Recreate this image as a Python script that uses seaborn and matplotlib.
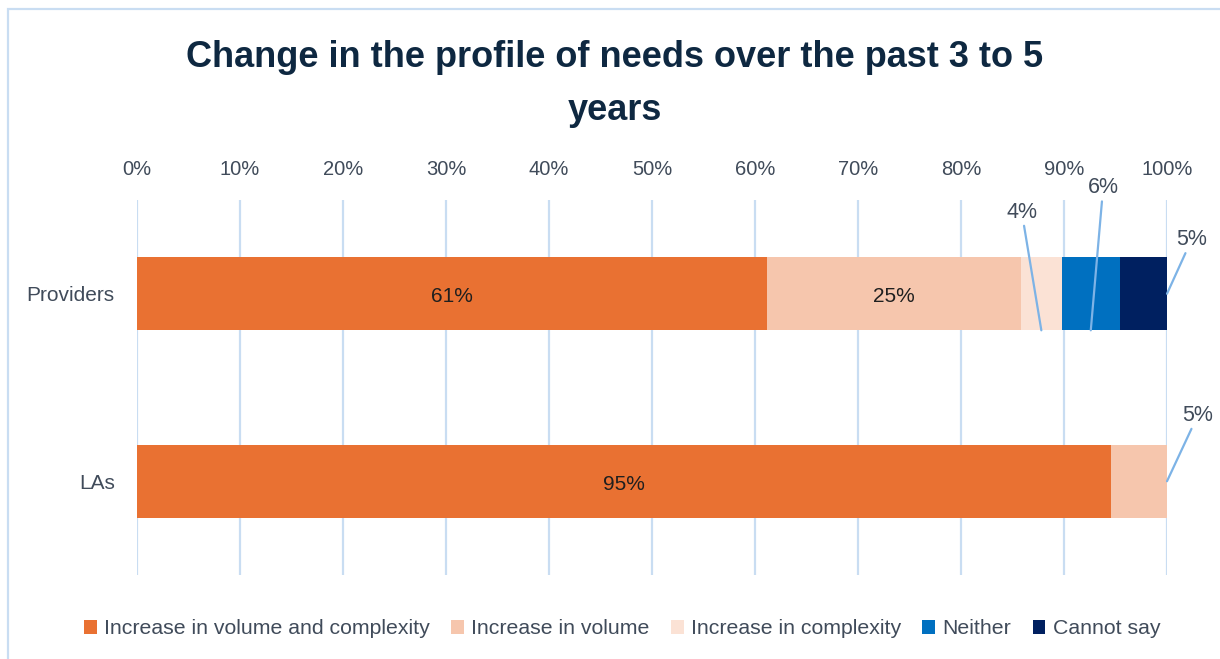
import matplotlib
matplotlib.use("Agg")
import matplotlib.pyplot as plt
from matplotlib.patches import Patch, Rectangle
import numpy as np
import pandas as pd
import seaborn as sns

# Survey results: share of respondents by response category
groups = ["Providers", "LAs"]
categories = ["Increase in volume and complexity", "Increase in volume",
              "Increase in complexity", "Neither", "Cannot say"]
providers = [61.2, 24.6, 4.0, 5.6, 4.6]
las = [94.6, 5.4, 0.0, 0.0, 0.0]
x_ticks = [0, 10, 20, 30, 40, 50, 60, 70, 80, 90, 100]

colors = ["#E97132", "#F6C6AD", "#FBE2D5", "#0070C0", "#002060"]
text_dark = "#404B5A"
grid_col = "#C9DDF2"
leader_col = "#7DB3E6"

sns.set_theme(style="white")
plt.rcParams["font.family"] = ["Liberation Sans", "DejaVu Sans"]

fig = plt.figure(figsize=(12.2, 6.59), dpi=100)
W, H = 1220, 659
ax = fig.add_axes([137 / W, 1 - 575 / H, (1167 - 137) / W, (575 - 200) / H])

df = pd.DataFrame({"group": np.repeat(groups, len(categories)),
                   "category": categories * len(groups),
                   "value": providers + las})
df["cum"] = df.groupby("group")["value"].cumsum()

# Stacked bars: draw cumulative totals from the last segment back to the first
for i in range(len(categories) - 1, -1, -1):
    sub = df[df["category"] == categories[i]]
    sns.barplot(data=sub, x="cum", y="group", order=groups, orient="h",
                color=colors[i], width=0.39, saturation=1, ax=ax,
                linewidth=0, zorder=3)

ax.set_xlim(0, 100)
ax.set_ylim(1.5, -0.5)
ax.set_xticks(x_ticks)
ax.set_xticklabels([f"{t}%" for t in x_ticks])
ax.xaxis.tick_top()
ax.tick_params(axis="x", length=0, pad=15, labelsize=14.5, labelcolor=text_dark)
ax.tick_params(axis="y", length=0, pad=16, labelsize=15, labelcolor=text_dark)
ax.set_xlabel("")
ax.set_ylabel("")
ax.grid(axis="x", color=grid_col, linewidth=1.6, zorder=0)
ax.grid(axis="y", visible=False)
for s in ax.spines.values():
    s.set_visible(False)

# Value labels inside the large segments
bh = 0.39 / 2
for gi, vals in enumerate([providers, las]):
    start = 0.0
    for ci, v in enumerate(vals):
        if v >= 10:
            ax.text(start + v / 2, gi + 0.015, f"{v:.0f}%", ha="center",
                    va="center", fontsize=15, color="#1F1F1F", zorder=5)
        start += v

# Leader-line labels for the narrow segments
def leader(value, xy, xytext):
    ax.annotate(f"{value:.0f}%", xy=xy, xytext=xytext, ha="center",
                va="center", fontsize=15.5, color=text_dark,
                annotation_clip=False, zorder=6,
                arrowprops=dict(arrowstyle="-", color=leader_col, lw=1.6,
                                shrinkA=0, shrinkB=0))

p = providers
leader(p[2], (p[0] + p[1] + p[2] / 2, bh), (85.9, -0.436))
leader(p[3], (p[0] + p[1] + p[2] + p[3] / 2, bh), (93.8, -0.566))
leader(p[4], (100, 0), (102.4, -0.29))
leader(las[1], (100, 1), (103.0, 0.647))

# Title
fig.text(615 / W, 1 - 84 / H,
         "Change in the profile of needs over the past 3 to 5\nyears",
         ha="center", va="center", fontsize=26, fontweight="bold",
         color="#0E2841", linespacing=1.65,
         family=["Liberation Sans Narrow", "Liberation Sans"])

# Legend
handles = [Patch(facecolor=c, edgecolor="none", label=l)
           for c, l in zip(colors, categories)]
fig.legend(handles=handles, loc="center", bbox_to_anchor=(622 / W, 1 - 629 / H),
           ncol=5, frameon=False, fontsize=15.3, labelcolor=text_dark,
           handlelength=0.6, handleheight=0.6, handletextpad=0.35,
           columnspacing=1.0)

# Outer chart frame
fig.add_artist(Rectangle((8 / W, -0.05), 1.2, 1 - 9 / H + 0.05,
                         transform=fig.transFigure, fill=False,
                         edgecolor=grid_col, linewidth=1.6))

fig.savefig("out.png", dpi=100)
